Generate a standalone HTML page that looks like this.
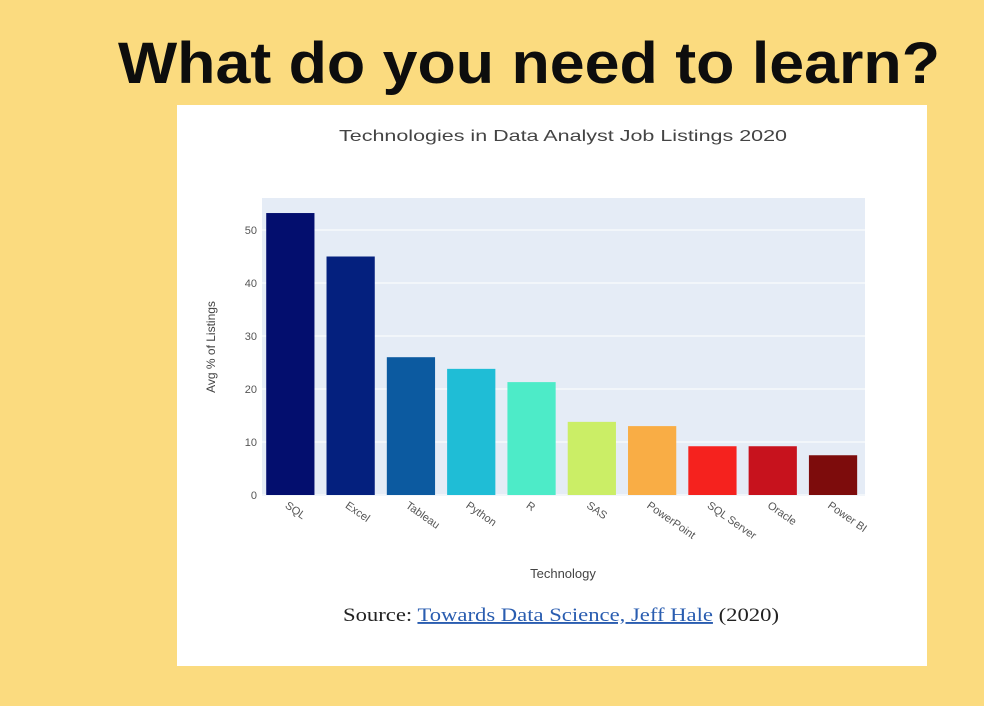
<!DOCTYPE html>
<html><head><meta charset="utf-8"><style>
html,body{margin:0;padding:0;background:#fbdb7f;}
svg{display:block;font-family:"Liberation Sans",sans-serif;}
</style></head><body>
<svg width="984" height="706" viewBox="0 0 984 706">
<rect x="0" y="0" width="984" height="706" fill="#fbdb7f"/>
<text x="118" y="83" font-size="58" font-weight="bold" fill="#0d0d0d" textLength="822" lengthAdjust="spacingAndGlyphs">What do you need to learn?</text>
<rect x="177" y="105" width="750" height="561" fill="#ffffff"/>
<text x="563" y="141" font-size="16" fill="#444" text-anchor="middle" textLength="448" lengthAdjust="spacingAndGlyphs">Technologies in Data Analyst Job Listings 2020</text>
<rect x="262" y="198" width="603" height="298" fill="#e5ecf6"/>
<g id="grid"></g>
<g id="bars"></g>
<g id="yticks"></g>
<g id="xticks"></g>
<text transform="translate(215,347) rotate(-90)" font-size="12" fill="#444" text-anchor="middle">Avg % of Listings</text>
<text x="563" y="578" font-size="13" fill="#444" text-anchor="middle">Technology</text>
<text x="343" y="621" font-size="19" fill="#222" textLength="436" lengthAdjust="spacingAndGlyphs" font-family="Liberation Serif, serif">Source: <tspan fill="#2a5db0" text-decoration="underline">Towards Data Science, Jeff Hale</tspan> (2020)</text>
</svg>
<script>
const categories=["SQL","Excel","Tableau","Python","R","SAS","PowerPoint","SQL Server","Oracle","Power BI"];
const values=[53.2,45,26,23.8,21.3,13.8,13.0,9.2,9.2,7.5];
const colors=["#030e6e","#04207e","#0c5aa0","#1fbdd6","#4debc8","#cbee66","#f9ad45","#f5221e","#c7121d","#7d0c0c"];
const yTicks=[0,10,20,30,40,50];
const NS="http://www.w3.org/2000/svg";
const x0=262,x1=865,yBase=495,pxPerUnit=5.3;
const band=(x1-x0)/categories.length;
function xPos(i){return x0+band*i+band*0.07;}
function yPos(v){return yBase-v*pxPerUnit;}
const grid=document.getElementById('grid'),bars=document.getElementById('bars'),yt=document.getElementById('yticks'),xt=document.getElementById('xticks');
yTicks.forEach(t=>{
  const l=document.createElementNS(NS,'line');
  l.setAttribute('x1',x0);l.setAttribute('x2',x1);l.setAttribute('y1',yPos(t));l.setAttribute('y2',yPos(t));
  l.setAttribute('stroke','#ffffff');l.setAttribute('stroke-width','1');
  
  
  grid.appendChild(l);
  const tx=document.createElementNS(NS,'text');
  tx.setAttribute('x',257);tx.setAttribute('y',yPos(t)+4);tx.setAttribute('font-size','11');tx.setAttribute('fill','#555');tx.setAttribute('text-anchor','end');
  tx.textContent=t;
  
  
  yt.appendChild(tx);
});
categories.forEach((c,i)=>{
  const r=document.createElementNS(NS,'rect');
  const w=band*0.8;
  r.setAttribute('x',xPos(i));r.setAttribute('width',w);
  r.setAttribute('y',yPos(values[i]));r.setAttribute('height',yBase-yPos(values[i]));
  r.setAttribute('fill',colors[i]);
  
  
  bars.appendChild(r);
  const cx=xPos(i)+w/2;
  const tx=document.createElementNS(NS,'text');
  tx.setAttribute('transform','translate('+(cx-6)+',507) rotate(35)');
  tx.setAttribute('font-size','11');tx.setAttribute('fill','#555');
  tx.textContent=c;
  
  
  xt.appendChild(tx);
});
</script>
</body></html>
